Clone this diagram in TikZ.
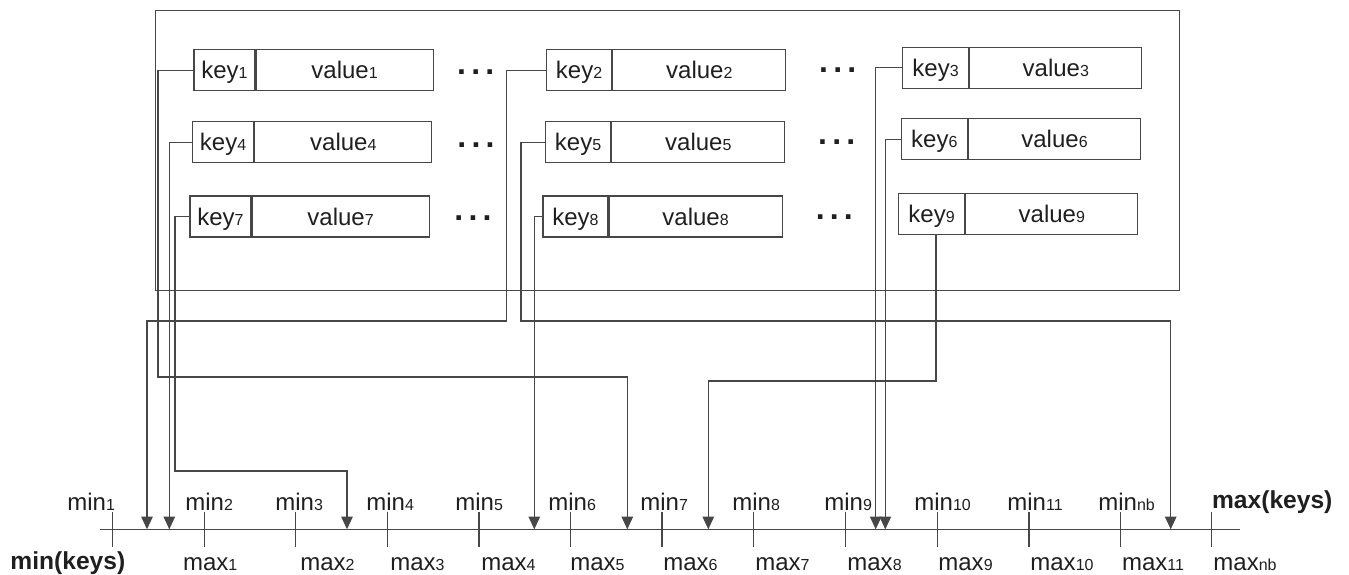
\documentclass[tikz,border=0pt]{standalone}
\usepackage{fontspec}
\setmainfont{Liberation Sans}
\usetikzlibrary{arrows.meta}

% small index digits written beside a word, sitting on its baseline
\newcommand\sub[1]{{\fontsize{8}{8}\selectfont #1}}

% one key/value record: #1 index, #2 left, #3 top, #4 key cell width, #5 value cell width
\newcommand\record[5]{%
  \node[cell, minimum width=#4] (k#1) at (#2,#3) {key\sub{#1}};
  \node[cell, minimum width=#5] (v#1) at (k#1.north east) {value\sub{#1}\hspace{6pt}};
}

\begin{document}
\begin{tikzpicture}[x=0.5pt, y=-0.5pt,
  line/.style={draw=black!72, line width=0.6pt},
  cell/.style={line, inner sep=0pt, anchor=north west, minimum height=20.5pt,
    text height=8.6pt, text depth=0pt, font=\fontsize{12}{14}\selectfont, text=black!88},
  conn/.style={line},
  arr/.style={line, -{Triangle[length=6.4pt,width=5.8pt]}},
  lbl/.style={inner sep=0pt, anchor=base west, font=\fontsize{12}{14}\selectfont, text=black!88},
  boldlbl/.style={lbl, font=\fontsize{12.3}{14}\selectfont\bfseries},
  dotsnode/.style={inner sep=0pt, font=\fontsize{16}{16}\selectfont\bfseries, text=black!88}]

\useasboundingbox (0,0) rectangle (1349,574);

% container of the records
\node[line, inner sep=0pt, anchor=north west, minimum width=512pt, minimum height=140pt]
  (store) at (155,10) {};

% records, three rows by three columns
\record{1}{193.3}{49}{30.5pt}{88.5pt}
\record{2}{546}{49}{32.5pt}{86.5pt}
\record{3}{902}{46.7}{33pt}{86pt}
\record{4}{192}{121}{30.5pt}{88.5pt}
\record{5}{545}{121}{32.5pt}{86.5pt}
\record{6}{900.7}{118}{33pt}{86pt}
\record{7}{189.3}{195.3}{30.5pt}{88.5pt}
\record{8}{542.3}{195.3}{32.5pt}{86.5pt}
\record{9}{898}{192.7}{33pt}{86pt}

% ellipses between the columns
\node[dotsnode] (dots1) at (475.7,71.7) {.\kern2.6pt.\kern2.6pt.};
\node[dotsnode] (dots2) at (476,145) {.\kern2.6pt.\kern2.6pt.};
\node[dotsnode] (dots3) at (473,218.3) {.\kern2.6pt.\kern2.6pt.};
\node[dotsnode] (dots4) at (837.7,70) {.\kern2.6pt.\kern2.6pt.};
\node[dotsnode] (dots5) at (836.7,141.7) {.\kern2.6pt.\kern2.6pt.};
\node[dotsnode] (dots6) at (834.3,216.7) {.\kern2.6pt.\kern2.6pt.};

% key axis with its interval ticks
\coordinate (axL) at (100,529.3);
\coordinate (axR) at (1240,529.3);
\draw[line] (axL) -- (axR);
\foreach \i/\x in {1/112.7,2/204.3,3/295.7,4/387.3,5/479,6/570.7,7/662,
                   8/753.7,9/845.3,10/937.3,11/1029,12/1120.3,13/1211.7}
  \draw[line] (\x,512) coordinate (t\i) -- (\x,546.7);

% lower bounds above the axis
\foreach \n/\x/\s in {1/67/1,2/185/2,3/275/3,4/366/4,5/455/5,6/548/6,7/640/7,
                      8/732/8,9/824/9,10/914/10,11/1007/11,12/1098/nb}
  \node[lbl] (min\n) at (\x,510) {min\sub{\s}};
\node[boldlbl] (maxkeys) at (1211.7,508) {max(keys)};

% upper bounds below the axis
\foreach \n/\x/\s in {1/182.7/1,2/300/2,3/390/3,4/481/4,5/570/5,6/663/6,7/755/7,
                      8/847/8,9/938/9,10/1030/10,11/1121.7/11,12/1213/nb}
  \node[lbl] (max\n) at (\x,570) {max\sub{\s}};
\node[boldlbl] (minkeys) at (10,569) {min(keys)};

% bends and arrow ends of the key connectors
\coordinate (b1) at (158,377);
\coordinate (b2) at (506.7,321);
\coordinate (b5) at (521,321);
\coordinate (b7) at (175,471);
\coordinate (b9) at (936,381);
\coordinate (a1) at (627.3,529.3);
\coordinate (a2) at (147,529.3);
\coordinate (a3) at (875.7,529.3);
\coordinate (a4) at (169.3,529.3);
\coordinate (a5) at (1170.7,529.3);
\coordinate (a6) at (885.3,529.3);
\coordinate (a7) at (347,529.3);
\coordinate (a8) at (534.3,529.3);
\coordinate (a9) at (708.3,529.3);

% each key points to the interval it falls in
\draw[arr] (k1.west) -| (b1) -| (a1);
\draw[arr] (k2.west) -| (b2) -| (a2);
\draw[arr] (k3.west) -| (a3);
\draw[arr] (k4.west) -| (a4);
\draw[arr] (k5.west) -| (b5) -| (a5);
\draw[arr] (k6.west) -| (a6);
\draw[arr] (k7.west) -| (b7) -| (a7);
\draw[arr] (k8.west) -| (a8);
\draw[arr] (k9.south -| b9) -- (b9) -| (a9);
\end{tikzpicture}
\end{document}
